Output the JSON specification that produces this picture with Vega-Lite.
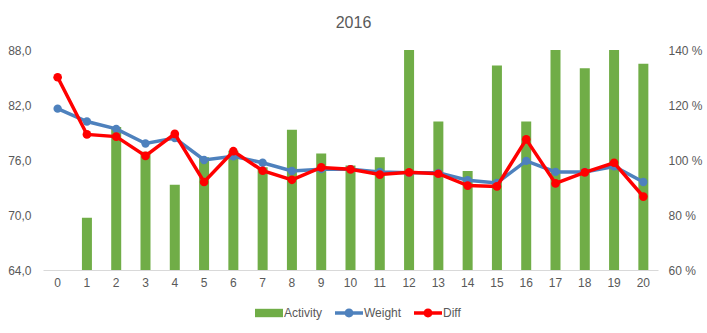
{
  "$schema": "https://vega.github.io/schema/vega-lite/v6.json",
  "width": 615,
  "height": 220,
  "autosize": {"type": "none"},
  "padding": {"left": 43, "top": 50, "right": 50, "bottom": 63},
  "background": "white",
  "title": {"text": "2016", "fontSize": 16, "font": "Liberation Sans", "fontWeight": "normal", "color": "#595959", "anchor": "middle", "offset": 13, "dx": 3},
  "config": {
    "view": {"stroke": null},
    "font": "Liberation Sans",
    "axis": {"labelFont": "Liberation Sans", "labelFontSize": 12, "labelColor": "#595959", "grid": false, "ticks": false, "title": null}
  },
  "data": {"values": [
    {"x": 0, "activity": null, "weight": 81.6, "diff": 130.1},
    {"x": 1, "activity": 69.7, "weight": 80.2, "diff": 109.3},
    {"x": 2, "activity": 79.6, "weight": 79.4, "diff": 108.5},
    {"x": 3, "activity": 76.9, "weight": 77.8, "diff": 101.5},
    {"x": 4, "activity": 73.3, "weight": 78.4, "diff": 109.5},
    {"x": 5, "activity": 76.3, "weight": 76.0, "diff": 92.0},
    {"x": 6, "activity": 77.0, "weight": 76.4, "diff": 103.2},
    {"x": 7, "activity": 75.2, "weight": 75.7, "diff": 96.1},
    {"x": 8, "activity": 79.3, "weight": 74.8, "diff": 92.8},
    {"x": 9, "activity": 76.7, "weight": 75.0, "diff": 97.3},
    {"x": 10, "activity": 75.4, "weight": 75.0, "diff": 96.6},
    {"x": 11, "activity": 76.3, "weight": 74.7, "diff": 94.7},
    {"x": 12, "activity": 92.0, "weight": 74.6, "diff": 95.5},
    {"x": 13, "activity": 80.2, "weight": 74.6, "diff": 95.0},
    {"x": 14, "activity": 74.8, "weight": 73.8, "diff": 90.7},
    {"x": 15, "activity": 86.3, "weight": 73.5, "diff": 90.4},
    {"x": 16, "activity": 80.2, "weight": 75.9, "diff": 107.5},
    {"x": 17, "activity": 92.0, "weight": 74.7, "diff": 91.5},
    {"x": 18, "activity": 86.0, "weight": 74.7, "diff": 95.5},
    {"x": 19, "activity": 92.0, "weight": 75.3, "diff": 99.0},
    {"x": 20, "activity": 86.5, "weight": 73.6, "diff": 86.7}
  ]},
  "encoding": {
    "x": {"field": "x", "type": "ordinal", "scale": {"paddingInner": 0, "paddingOuter": 0},
      "axis": {"labelAngle": 0, "domainColor": "#d9d9d9", "domainWidth": 1, "labelPadding": 7}}
  },
  "layer": [
    {
      "mark": {"type": "bar", "clip": true, "width": 10, "color": "#70AD47"},
      "encoding": {
        "y": {"field": "activity", "type": "quantitative", "scale": {"domain": [64, 88], "zero": false, "nice": false},
          "axis": {"values": [64, 70, 76, 82, 88], "domain": false, "labelPadding": 12, "labelExpr": "replace(format(datum.value, '.1f'), '.', ',')"}},
        "y2": {"datum": 64},
        "color": {"datum": "Activity", "type": "nominal",
          "scale": {"domain": ["Activity", "Weight", "Diff"], "range": ["#70AD47", "#4E81BD", "#FF0000"]},
          "legend": {
            "orient": "none", "legendX": 212, "legendY": 249, "direction": "horizontal", "title": null,
            "labelFont": "Liberation Sans", "labelFontSize": 12, "labelColor": "#595959",
            "symbolSize": 784, "labelOffset": 1, "columnPadding": 12,
            "encode": {"symbols": {"update": {
              "shape": {"signal": "datum.value === 'Activity' ? 'M-1,-0.3H1V0.3H-1Z' : 'M-1,-0.12H-0.28V0.12H-1Z M0.28,-0.12H1V0.12H0.28Z M0.32,0A0.32,0.32 0 1,1 -0.32,0A0.32,0.32 0 1,1 0.32,0Z'"},
              "fill": {"scale": "color", "field": "value"},
              "fillOpacity": {"value": 1},
              "strokeWidth": {"value": 0}
            }}}
          }}
      }
    },
    {
      "mark": {"type": "line", "strokeWidth": 3.5, "point": {"size": 70, "filled": true}},
      "encoding": {
        "y": {"field": "weight", "type": "quantitative", "scale": {"domain": [64, 88], "zero": false, "nice": false}, "axis": null},
        "color": {"datum": "Weight", "type": "nominal"}
      }
    },
    {
      "mark": {"type": "line", "strokeWidth": 3.5, "point": {"size": 75, "filled": true}},
      "encoding": {
        "y": {"field": "diff", "type": "quantitative", "scale": {"domain": [60, 140], "zero": false, "nice": false},
          "axis": {"orient": "right", "values": [60, 80, 100, 120, 140], "domain": false, "labelPadding": 10, "labelExpr": "datum.value + ' %'"}},
        "color": {"datum": "Diff", "type": "nominal"}
      }
    }
  ],
  "resolve": {"scale": {"y": "independent"}}
}
